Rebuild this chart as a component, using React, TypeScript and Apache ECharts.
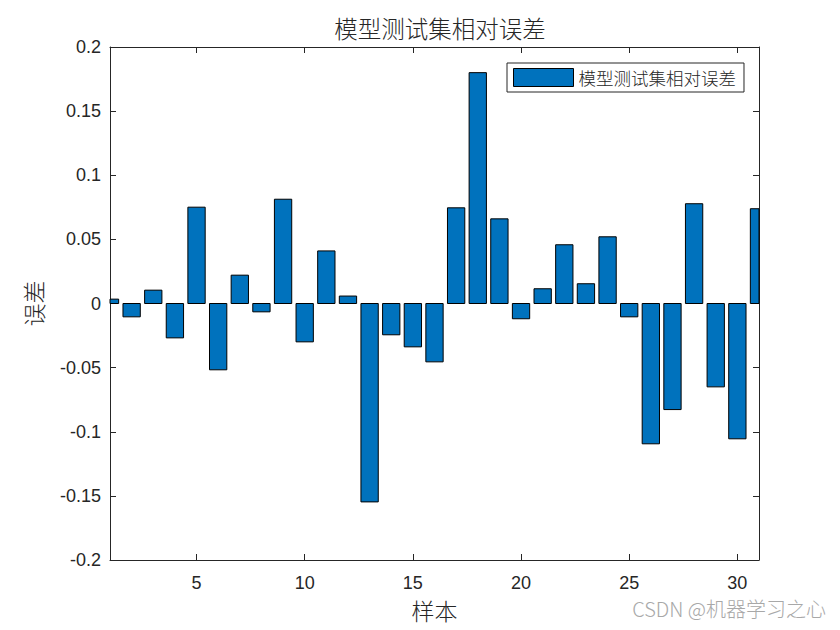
import React, { useEffect, useRef } from "react";
import * as echarts from "echarts";

const sampleIndex = [1, 2, 3, 4, 5, 6, 7, 8, 9, 10, 11, 12, 13, 14, 15, 16, 17, 18, 19, 20, 21, 22, 23, 24, 25, 26, 27, 28, 29, 30, 31];
const relativeError = [
  0.0034, -0.0104, 0.0104, -0.0268, 0.0751, -0.0517, 0.0221, -0.0065, 0.0813, -0.0299,
  0.041, 0.0058, -0.1547, -0.0244, -0.0338, -0.0455, 0.0746, 0.18, 0.066, -0.0119,
  0.0115, 0.0458, 0.0154, 0.052, -0.0104, -0.1094, -0.0827, 0.0778, -0.065, -0.1055, 0.0739,
];
const titleText = "模型测试集相对误差";
const seriesName = "模型测试集相对误差";
const xName = "样本";
const yName = "误差";
const watermark = "CSDN @机器学习之心";

export default function App() {
  const ref = useRef<HTMLDivElement>(null);
  useEffect(() => {
    if (!ref.current) return;
    const chart = echarts.init(ref.current, null, { renderer: "svg" });
    const axisColor = "#262626";
    const font = "'Liberation Sans', Arial, sans-serif";
    const cjk = "'Noto Sans CJK SC', sans-serif";
    const barColor = "#0072BD";
    chart.setOption({
      animation: false,
      backgroundColor: "#ffffff",
      title: {
        text: titleText,
        left: 435,
        textAlign: "center",
        top: 11,
        textStyle: { fontFamily: cjk, fontSize: 23.5, fontWeight: 300, color: "#262626" },
      },
      legend: {
        right: 96,
        top: 63,
        orient: "vertical",
        icon: "rect",
        itemWidth: 60,
        itemHeight: 18,
        padding: [5, 8, 5, 6],
        borderColor: axisColor,
        borderWidth: 1,
        backgroundColor: "#ffffff",
        itemStyle: { color: barColor, borderColor: "#000000", borderWidth: 1 },
        textStyle: { fontFamily: cjk, fontSize: 17.5, fontWeight: 300, color: "#262626" },
        data: [seriesName],
      },
      grid: { left: 110, right: 81, top: 47, bottom: 70, containLabel: false },
      xAxis: [
        {
          type: "value",
          min: 1,
          max: 31,
          splitNumber: 6,
          position: "bottom",
          name: xName,
          nameLocation: "middle",
          nameGap: 38,
          nameTextStyle: { fontFamily: cjk, fontSize: 23, fontWeight: 300, color: "#262626" },
          axisLine: { show: true, onZero: false, lineStyle: { color: axisColor, width: 1 } },
          axisTick: { show: true, inside: true, length: 6, lineStyle: { color: axisColor } },
          axisLabel: {
            showMinLabel: false,
            showMaxLabel: false,
            fontFamily: font,
            fontSize: 18,
            color: "#262626",
            margin: 14,
          },
          splitLine: { show: false },
        },
        {
          type: "value",
          min: 1,
          max: 31,
          splitNumber: 6,
          position: "top",
          axisLine: { show: true, onZero: false, lineStyle: { color: axisColor, width: 1 } },
          axisTick: { show: true, inside: true, length: 6, lineStyle: { color: axisColor } },
          axisLabel: { show: false },
          splitLine: { show: false },
        },
      ],
      yAxis: [
        {
          type: "value",
          min: -0.2,
          max: 0.2,
          interval: 0.05,
          position: "left",
          name: yName,
          nameLocation: "middle",
          nameRotate: 90,
          nameGap: 66,
          nameTextStyle: { fontFamily: cjk, fontSize: 23, fontWeight: 300, color: "#262626" },
          axisLine: { show: true, onZero: false, lineStyle: { color: axisColor, width: 1 } },
          axisTick: { show: true, inside: true, length: 6, lineStyle: { color: axisColor } },
          axisLabel: { fontFamily: font, fontSize: 18, color: "#262626", margin: 9 },
          splitLine: { show: false },
        },
        {
          type: "value",
          min: -0.2,
          max: 0.2,
          interval: 0.05,
          position: "right",
          axisLine: { show: true, onZero: false, lineStyle: { color: axisColor, width: 1 } },
          axisTick: { show: true, inside: true, length: 6, lineStyle: { color: axisColor } },
          axisLabel: { show: false },
          splitLine: { show: false },
        },
      ],
      series: [
        {
          name: seriesName,
          type: "custom",
          xAxisIndex: 0,
          yAxisIndex: 0,
          itemStyle: { color: barColor, borderColor: "#000000", borderWidth: 1 },
          encode: { x: 0, y: 1 },
          renderItem: (params: any, api: any) => {
            const x = api.value(0);
            const y = api.value(1);
            const p0 = api.coord([x, 0]);
            const p1 = api.coord([x, y]);
            const w = api.size([0.8, 0])[0];
            const cs = params.coordSys;
            const shape = echarts.graphic.clipRectByRect(
              { x: p0[0] - w / 2, y: Math.min(p0[1], p1[1]), width: w, height: Math.abs(p1[1] - p0[1]) },
              { x: cs.x, y: cs.y, width: cs.width, height: cs.height }
            );
            if (!shape) return null;
            return {
              type: "rect",
              shape,
              style: { fill: barColor, stroke: "#000000", lineWidth: 1 },
            };
          },
          data: sampleIndex.map((x, i) => [x, relativeError[i]]),
        },
      ],
      graphic: [
        {
          type: "text",
          right: 14,
          top: 598,
          style: { text: watermark, fontFamily: cjk, fontSize: 20, fontWeight: 300, fill: "#a8a8a8" },
        },
      ],
    });
    return () => chart.dispose();
  }, []);
  return (
    <div
      ref={ref}
      style={{ position: "fixed", left: 0, top: 0, width: 840, height: 630 }}
    />
  );
}
